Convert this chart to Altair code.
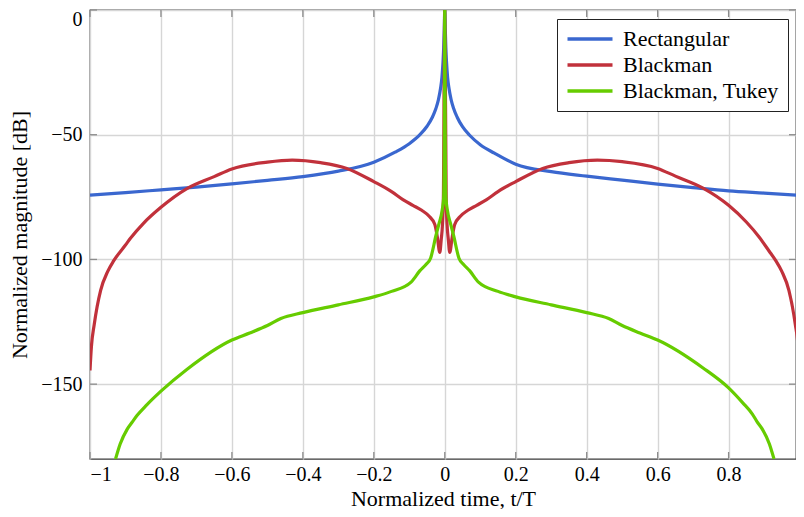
import altair as alt
import pandas as pd

series_names = ["Rectangular", "Blackman", "Blackman, Tukey"]
series_colors = ["#3a67cf", "#c1313b", "#66cc00"]

rect_t = [-1.0, -0.9, -0.8, -0.7, -0.6, -0.5, -0.4, -0.3, -0.2, -0.14, -0.1, -0.07, -0.05,
          -0.035, -0.025, -0.018, -0.012, -0.008, -0.005, -0.003, -0.0015, 0.0,
          0.0015, 0.003, 0.005, 0.008, 0.012, 0.018, 0.025, 0.035, 0.05, 0.07, 0.1,
          0.14, 0.2, 0.3, 0.4, 0.5, 0.6, 0.7, 0.8, 0.9, 1.0]
rect_db = [-74.2, -73.2, -72.1, -71.0, -69.7, -68.3, -66.8, -64.6, -61.0, -57.0, -53.6, -50.0,
           -46.6, -43.0, -39.5, -36.0, -31.5, -27.0, -21.0, -15.0, -8.0, 0.0,
           -8.0, -15.0, -21.0, -27.0, -31.5, -36.0, -39.5, -43.0, -46.8, -50.2, -54.0,
           -57.4, -61.8, -64.8, -66.6, -68.2, -69.8, -71.2, -72.5, -73.4, -74.3]

black_t = [-1.0, -0.996, -0.988, -0.97, -0.95, -0.933, -0.9, -0.886, -0.85, -0.8, -0.728, -0.65,
           -0.6, -0.5, -0.43, -0.35, -0.276, -0.2, -0.15, -0.118, -0.09, -0.065, -0.044, -0.028,
           -0.021, -0.014, -0.01, -0.0065, -0.004, 0.0, 0.004, 0.0065, 0.01, 0.014, 0.021, 0.028,
           0.044, 0.065, 0.09, 0.118, 0.15, 0.2, 0.276, 0.35, 0.43, 0.5, 0.6, 0.65, 0.728, 0.8,
           0.85, 0.886, 0.914, 0.933, 0.95, 0.97, 0.988, 0.996, 1.0]
black_db = [-144.5, -135.0, -126.0, -112.4, -104.8, -100.5, -94.2, -91.5, -85.6, -79.1, -71.7,
            -66.8, -63.7, -61.0, -60.2, -61.2, -63.5, -68.8, -72.8, -76.0, -78.3, -80.3, -82.7,
            -86.0, -91.0, -97.2, -92.0, -86.0, -76.0, 0.0, -76.0, -86.0, -92.0, -97.2, -91.0,
            -86.0, -82.7, -80.3, -78.3, -76.0, -72.8, -68.8, -63.5, -61.2, -60.2, -60.8, -63.5,
            -66.6, -71.4, -78.3, -85.0, -91.0, -96.6, -100.5, -104.8, -112.4, -126.0, -135.0,
            -144.5]

tukey_t = [-0.928, -0.915, -0.895, -0.88, -0.867, -0.84, -0.8, -0.728, -0.6, -0.55, -0.5,
           -0.462, -0.4, -0.3, -0.2, -0.15, -0.095, -0.07, -0.053, -0.04, -0.025, -0.017,
           -0.007, -0.003, -0.001, 0.0, 0.001, 0.003, 0.007, 0.017, 0.025, 0.04, 0.053, 0.07,
           0.095, 0.15, 0.2, 0.3, 0.4, 0.462, 0.5, 0.55, 0.6, 0.728, 0.8, 0.84, 0.867, 0.88,
           0.895, 0.915, 0.928]
tukey_db = [-180.0, -174.0, -168.0, -165.0, -162.5, -158.3, -152.8, -144.2, -132.3, -129.5,
            -126.5, -123.7, -121.3, -118.2, -115.0, -112.8, -109.1, -104.5, -102.0, -99.5,
            -90.5, -86.0, -80.0, -75.0, -45.0, 0.0, -45.0, -75.0, -80.0, -86.0, -90.5, -99.5,
            -102.0, -104.5, -109.1, -112.8, -115.0, -118.2, -121.3, -123.7, -126.5, -129.5,
            -132.3, -143.5, -151.5, -157.5, -162.0, -165.0, -168.0, -174.0, -180.0]

x_ticks = [-1, -0.8, -0.6, -0.4, -0.2, 0, 0.2, 0.4, 0.6, 0.8]
y_ticks = [0, -50, -100, -150]

rows = []
for name, ts, dbs in zip(series_names, [rect_t, black_t, tukey_t], [rect_db, black_db, tukey_db]):
    for t, d in zip(ts, dbs):
        rows.append({"t": t, "db": d, "series": name})
df = pd.DataFrame(rows)

W, H = 706, 449
FONT = "Liberation Serif"
xs = alt.Scale(domain=[-1, 0.99], nice=False, zero=False)
ys = alt.Scale(domain=[-180, 0], nice=False, zero=False)

color = alt.Color(
    "series:N",
    scale=alt.Scale(domain=series_names, range=series_colors),
    legend=alt.Legend(
        title=None, orient="none", legendX=467, legendY=9,
        fillColor="white", strokeColor="#222222", padding=9,
        symbolType="M-2.5,0H2.5", symbolSize=324, symbolStrokeWidth=3.5,
        symbolOffset=13, labelOffset=22,
        labelFont=FONT, labelFontSize=22, labelColor="black",
        rowPadding=4, labelLimit=400,
    ),
)

def line_layer(name, first=False):
    x = alt.X("t:Q", scale=xs,
              axis=alt.Axis(values=x_ticks, format="~f", title="Normalized time, t/T",
                            labelPadding=5, titlePadding=4) if first else alt.Axis())
    y = alt.Y("db:Q", scale=ys,
              axis=alt.Axis(values=y_ticks, format="~f", title="Normalized magnitude [dB]",
                            labelPadding=8, titlePadding=9, labelFlush=True,
                            labelFlushOffset=1) if first else alt.Axis())
    return (alt.Chart(df).transform_filter(alt.datum.series == name)
            .mark_line(strokeWidth=3.2, clip=True, interpolate="monotone")
            .encode(x=x, y=y, color=color, order="t:Q"))

layers = [line_layer(n, i == 0) for i, n in enumerate(series_names)]

ydf = pd.DataFrame({"db": y_ticks})
xdf = pd.DataFrame({"t": x_ticks})
tick_style = dict(color="#8c8c8c", strokeWidth=1.3)
ticks = [
    alt.Chart(ydf).mark_rule(**tick_style).encode(y=alt.Y("db:Q", scale=ys), x=alt.value(0), x2=alt.value(7)),
    alt.Chart(ydf).mark_rule(**tick_style).encode(y=alt.Y("db:Q", scale=ys), x=alt.value(W - 7), x2=alt.value(W)),
    alt.Chart(xdf).mark_rule(**tick_style).encode(x=alt.X("t:Q", scale=xs), y=alt.value(H - 7), y2=alt.value(H)),
    alt.Chart(xdf).mark_rule(**tick_style).encode(x=alt.X("t:Q", scale=xs), y=alt.value(0), y2=alt.value(7)),
]

chart = (
    alt.layer(*ticks, *layers)
    .properties(width=W, height=H, padding={"left": 82, "top": 2, "right": 0, "bottom": 50},
                autosize=alt.AutoSizeParams(type="none"))
    .configure_view(stroke="#3a3a3a", strokeWidth=1.3)
    .configure_axis(
        domain=False, ticks=False, grid=True, gridColor="#d6d6d6", gridWidth=1.4,
        labelFont=FONT, labelFontSize=20, labelColor="black",
        titleFont=FONT, titleFontSize=22, titleFontWeight="normal", titleColor="black",
    )
)

chart.save("out.html", embed_options={"renderer": "svg", "actions": False})
